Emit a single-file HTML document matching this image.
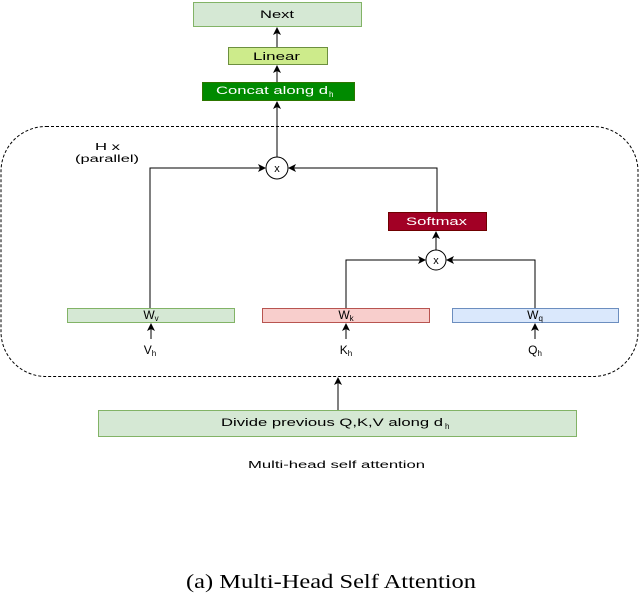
<!DOCTYPE html>
<html><head><style>body{margin:0;background:#fff}svg{display:block}</style></head><body>
<svg width="640" height="595" viewBox="0 0 640 595" xmlns="http://www.w3.org/2000/svg" font-family="Liberation Sans, sans-serif">
<defs><marker id="a" markerWidth="8" markerHeight="8" refX="7" refY="4" orient="auto" markerUnits="userSpaceOnUse"><path d="M0,0 L8,4 L0,8 L2,4 z" fill="#000"/></marker></defs>
<rect x="193.5" y="2.5" width="168" height="24" fill="#d5e8d4" stroke="#82b366"/>
<text x="260" y="18" font-size="11" textLength="34" lengthAdjust="spacingAndGlyphs">Next</text>
<rect x="228.5" y="47.5" width="99" height="17" fill="#cdeb8b" stroke="#6c8f3f"/>
<text x="253" y="60" font-size="11" textLength="47" lengthAdjust="spacingAndGlyphs">Linear</text>
<rect x="202.5" y="82.5" width="152" height="18" fill="#008a00" stroke="#2d7600"/>
<text x="216" y="94" font-size="11" fill="#fff" textLength="112" lengthAdjust="spacingAndGlyphs">Concat along d</text>
<text x="329" y="97" font-size="8" fill="#fff">h</text>
<line x1="277" y1="47" x2="277" y2="28" stroke="#000" marker-end="url(#a)"/>
<line x1="277" y1="82" x2="277" y2="66" stroke="#000" marker-end="url(#a)"/>
<line x1="277" y1="157" x2="277" y2="102" stroke="#000" marker-end="url(#a)"/>
<rect x="1" y="126.5" width="637" height="250" rx="45" fill="none" stroke="#000" stroke-dasharray="3,2"/>
<text x="95" y="150" font-size="10" textLength="25" lengthAdjust="spacingAndGlyphs">H x</text>
<text x="75" y="162" font-size="10" textLength="64" lengthAdjust="spacingAndGlyphs">(parallel)</text>
<circle cx="277" cy="168" r="11" fill="#fff" stroke="#000"/>
<text x="277" y="172" font-size="11" text-anchor="middle">x</text>
<polyline points="150,308 150,168 265,168" fill="none" stroke="#000" marker-end="url(#a)"/>
<polyline points="437,212 437,168 289,168" fill="none" stroke="#000" marker-end="url(#a)"/>
<rect x="388.5" y="212.5" width="98" height="18" fill="#a20025" stroke="#6f0000"/>
<text x="406" y="225" font-size="11" fill="#fff" textLength="61" lengthAdjust="spacingAndGlyphs">Softmax</text>
<circle cx="436" cy="260" r="10" fill="#fff" stroke="#000"/>
<text x="436" y="264" font-size="11" text-anchor="middle">x</text>
<line x1="436" y1="250" x2="436" y2="232" stroke="#000" marker-end="url(#a)"/>
<polyline points="346,308 346,260 425,260" fill="none" stroke="#000" marker-end="url(#a)"/>
<polyline points="535,308 535,260 447,260" fill="none" stroke="#000" marker-end="url(#a)"/>
<rect x="67.5" y="308.5" width="167" height="14" fill="#d5e8d4" stroke="#82b366"/>
<text x="151" y="319" font-size="12" text-anchor="middle">W<tspan font-size="8" dy="2">v</tspan></text>
<rect x="262.5" y="308.5" width="167" height="14" fill="#f8cecc" stroke="#b85450"/>
<text x="346" y="319" font-size="12" text-anchor="middle">W<tspan font-size="8" dy="2">k</tspan></text>
<rect x="452.5" y="308.5" width="166" height="14" fill="#dae8fc" stroke="#6c8ebf"/>
<text x="535" y="319" font-size="12" text-anchor="middle">W<tspan font-size="8" dy="2">q</tspan></text>
<line x1="151" y1="339" x2="151" y2="324" stroke="#000" marker-end="url(#a)"/>
<line x1="346" y1="339" x2="346" y2="324" stroke="#000" marker-end="url(#a)"/>
<line x1="535" y1="339" x2="535" y2="324" stroke="#000" marker-end="url(#a)"/>
<text x="150" y="354" font-size="12" text-anchor="middle">V<tspan font-size="8" dy="2">h</tspan></text>
<text x="346" y="354" font-size="12" text-anchor="middle">K<tspan font-size="8" dy="2">h</tspan></text>
<text x="535" y="354" font-size="12" text-anchor="middle">Q<tspan font-size="8" dy="2">h</tspan></text>
<line x1="338" y1="410" x2="338" y2="378" stroke="#000" marker-end="url(#a)"/>
<rect x="98.5" y="410.5" width="478" height="26" fill="#d5e8d4" stroke="#82b366"/>
<text x="221" y="426" font-size="11" textLength="222" lengthAdjust="spacingAndGlyphs">Divide previous Q,K,V along d</text>
<text x="445" y="429" font-size="8">h</text>
<text x="248" y="468" font-size="10" textLength="177" lengthAdjust="spacingAndGlyphs">Multi-head self attention</text>
<text x="331" y="588" font-size="20" text-anchor="middle" font-family="Liberation Serif, serif" textLength="290" lengthAdjust="spacingAndGlyphs">(a) Multi-Head Self Attention</text>
</svg>
</body></html>
